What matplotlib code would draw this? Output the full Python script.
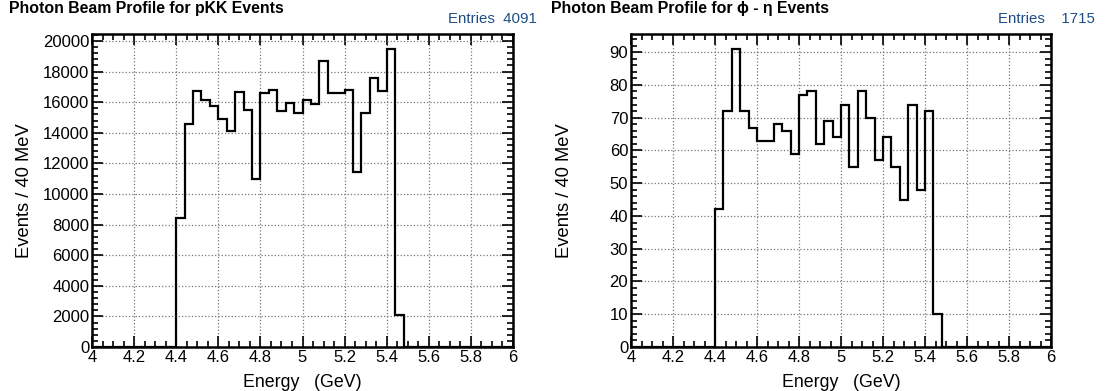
import numpy as np
import matplotlib
matplotlib.use("Agg")
import matplotlib.pyplot as plt
from matplotlib.ticker import MultipleLocator

plt.rcParams['font.family'] = ['Liberation Sans', 'DejaVu Sans']

# 40 MeV bins from 4.0 to 6.0 GeV
bin_edges = np.round(np.arange(4.0, 6.0001, 0.04), 2)

# filled bins run from 4.40 to 5.48 GeV
pkk_counts = [8450, 14550, 16720, 16170, 15780, 14910, 14140, 16660, 15520, 10950,
              16610, 16770, 15410, 15960, 15260, 16150, 15910, 18670, 16570, 16570,
              16810, 11410, 15320, 17570, 16720, 19480, 2100]
phieta_counts = [42, 72, 91, 72, 67, 63, 63, 68, 66, 59, 77, 78, 62, 69, 64, 74,
                 55, 78, 70, 57, 64, 55, 45, 74, 48, 72, 10]

pkk_hist = [0] * 10 + pkk_counts + [0] * 13
phieta_hist = [0] * 10 + phieta_counts + [0] * 13

titles = ["Photon Beam Profile for pKK Events", "Photon Beam Profile for \u03d5 - \u03b7 Events"]
entries = ["Entries  4091", "Entries    1715"]

fig = plt.figure(figsize=(11.05, 3.91), dpi=100)

panels = [
    (pkk_hist, [92 / 1105, 44 / 391, 421 / 1105, 313 / 391], 2000, 400, 9 / 1105, 537 / 1105),
    (phieta_hist, [631 / 1105, 44 / 391, 420 / 1105, 313 / 391], 10, 2, 551 / 1105, 1095 / 1105),
]

for i, (counts, pos, ymaj, ymin, tx, ex) in enumerate(panels):
    ax = fig.add_axes(pos)
    ax.stairs(counts, bin_edges, color='black', linewidth=1.6, baseline=0)
    ax.set_xlim(4, 6)
    ax.set_ylim(0, max(counts) * 1.05)

    ax.xaxis.set_major_locator(MultipleLocator(0.2))
    ax.xaxis.set_minor_locator(MultipleLocator(0.05))
    ax.yaxis.set_major_locator(MultipleLocator(ymaj))
    ax.yaxis.set_minor_locator(MultipleLocator(ymin))
    ax.xaxis.set_major_formatter(plt.FuncFormatter(lambda v, p: f"{v:g}"))

    ax.tick_params(which='both', direction='in', top=True, right=True,
                   labelsize=12, width=1.2, pad=2)
    ax.tick_params(which='major', length=8)
    ax.tick_params(which='minor', length=4)
    for s in ax.spines.values():
        s.set_linewidth(1.8)

    ax.grid(True, which='major', linestyle=':', color='#777777', linewidth=0.9)
    ax.set_axisbelow(True)

    ax.set_xlabel("Energy   (GeV)", fontsize=12.8, labelpad=0)
    ax.xaxis.set_label_coords(0.5, -0.085)
    ax.set_ylabel("Events / 40 MeV", fontsize=13.2)
    ax.yaxis.set_label_coords(-0.139, 0.5)

    fig.text(tx, 1 - 9 / 391, titles[i], fontsize=11.4, fontweight='bold', va='center', ha='left')
    fig.text(ex, 1 - 19 / 391, entries[i], fontsize=10.8, color='#1d4f86', va='center', ha='right')

fig.savefig("out.png", dpi=100)
